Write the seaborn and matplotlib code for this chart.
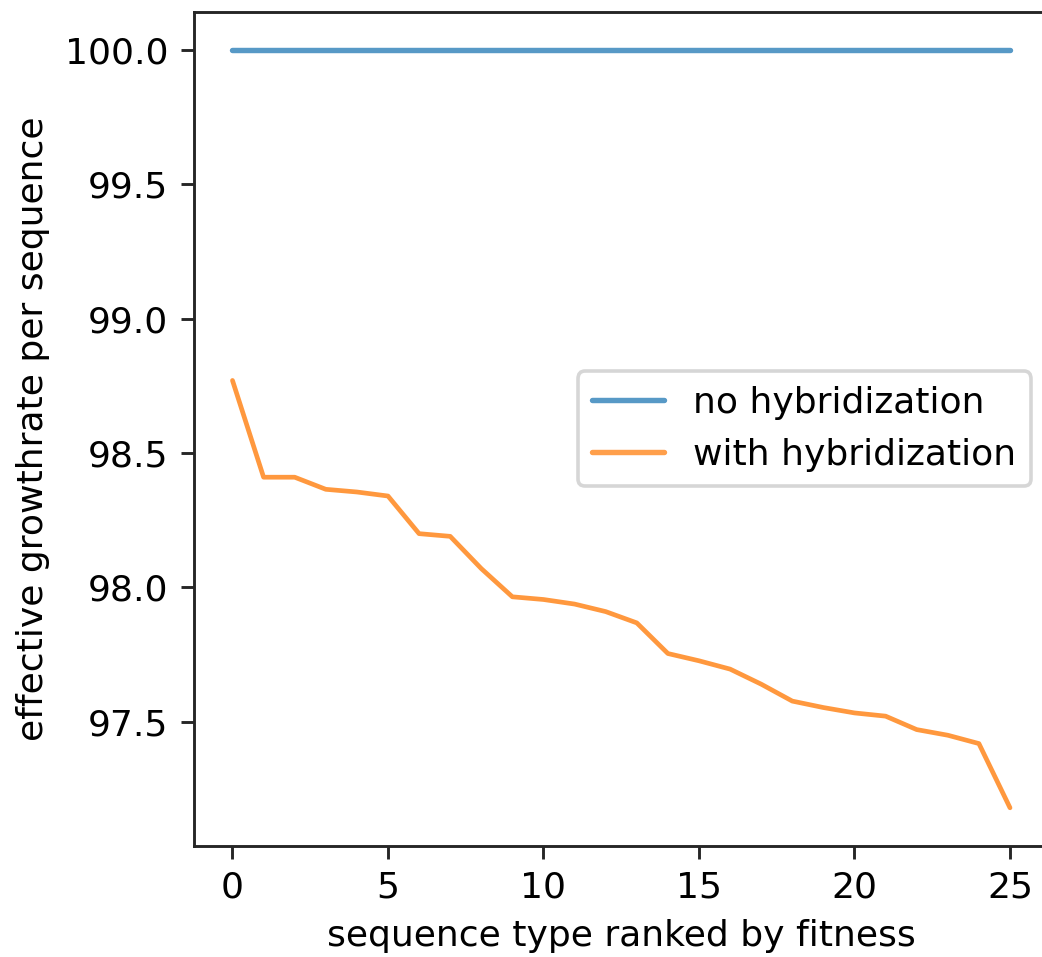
import matplotlib
matplotlib.use("Agg")
import matplotlib.pyplot as plt
import numpy as np
import pandas as pd
import seaborn as sns

# sequence types ranked by fitness
rank = list(range(26))

# effective growth rate per sequence, without hybridization
no_hybrid = [100.0] * 26

# effective growth rate per sequence, with hybridization
with_hybrid = [
    98.77, 98.41, 98.41, 98.365, 98.355, 98.34, 98.20, 98.19, 98.07, 97.965,
    97.955, 97.938, 97.91, 97.868, 97.754, 97.727, 97.696, 97.64, 97.577, 97.553,
    97.533, 97.521, 97.471, 97.45, 97.419, 97.18,
]

series_labels = ["no hybridization", "with hybridization"]
series_colors = ["#1f77b4", "#ff7f0e"]
series_widths = [1.5, 1.3]
series_alpha = [0.75, 0.8]

df = pd.DataFrame({
    "rank": rank * 2,
    "growth": no_hybrid + with_hybrid,
    "condition": [series_labels[0]] * len(rank) + [series_labels[1]] * len(rank),
})

sns.set_style("ticks")
plt.rcParams["font.family"] = ["DejaVu Sans"]
plt.rcParams["axes.edgecolor"] = "#262626"
plt.rcParams["text.color"] = "black"
plt.rcParams["axes.labelcolor"] = "black"
plt.rcParams["xtick.color"] = "#262626"
plt.rcParams["ytick.color"] = "#262626"
plt.rcParams["xtick.labelcolor"] = "black"
plt.rcParams["ytick.labelcolor"] = "black"

fig = plt.figure(figsize=(1042 / 260, 957 / 260), dpi=260)
ax = fig.add_axes([0.1858, 0.1163, 0.8208, 0.8712])

for label, color, lw, a in zip(series_labels, series_colors, series_widths, series_alpha):
    sub = df[df["condition"] == label]
    sns.lineplot(data=sub, x="rank", y="growth", ax=ax, color=color,
                 alpha=a, linewidth=lw, label=label)

for side in ["top", "right", "left", "bottom"]:
    ax.spines[side].set_visible(True)
    ax.spines[side].set_linewidth(0.8)

ax.set_xticks([0, 5, 10, 15, 20, 25])
ax.set_yticks([97.5, 98.0, 98.5, 99.0, 99.5, 100.0])
ax.tick_params(axis="both", labelsize=10, length=3.5, width=0.8)
ax.set_xlabel("sequence type ranked by fitness", fontsize=10)
ax.set_ylabel("effective growthrate per sequence", fontsize=10)

leg = ax.legend(loc="center right", fontsize=10, frameon=True, framealpha=0.8,
                edgecolor="0.8", fancybox=True)
for handle in leg.get_lines():
    handle.set_linewidth(1.5)
    handle.set_alpha(0.75)

fig.savefig("out.png", dpi=260)
